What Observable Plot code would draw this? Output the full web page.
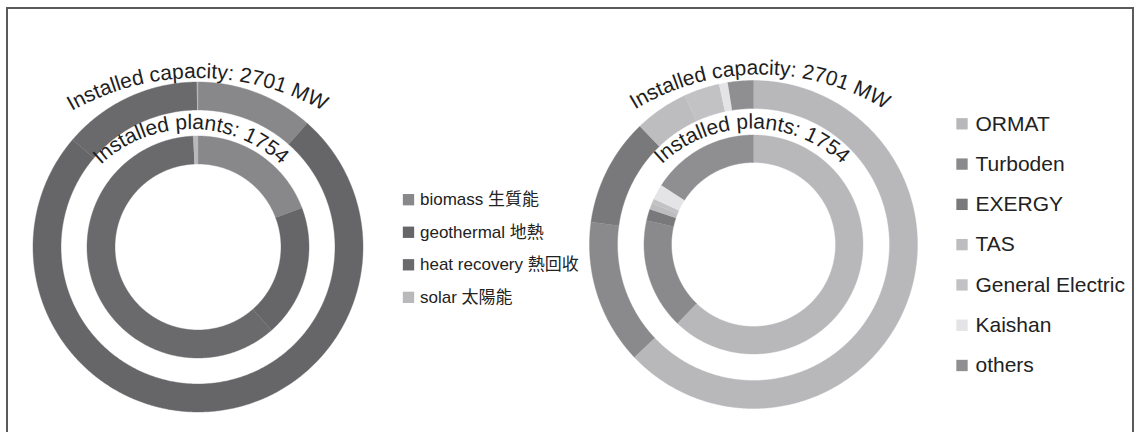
<!DOCTYPE html>
<html>
<head>
<meta charset="utf-8">
<script src="https://cdn.jsdelivr.net/npm/d3@7"></script>
<script src="https://cdn.jsdelivr.net/npm/@observablehq/plot@0.6"></script>
<style>
  html, body { margin: 0; padding: 0; background: #fff; }
  #wrap { position: relative; width: 1139px; height: 432px; overflow: hidden; }
  #frame { position: absolute; left: 6px; top: 7px; width: 1128px; height: 440px; border: 2px solid #5a5a5c; box-sizing: border-box; pointer-events: none; }
  svg { font-family: "Liberation Sans", Arial, "Noto Sans CJK TC", sans-serif; }
</style>
</head>
<body>
<div id="wrap"><div id="frame"></div></div>
<script>
// ---------- data ----------
const sourceCategories = ["biomass 生質能", "geothermal 地熱", "heat recovery 熱回收", "solar 太陽能"];
const sourceCapacityMW = [311, 2019, 368, 3];
const sourcePlants = [338, 337, 1067, 12];
const sourceColors = ["#88888b", "#666669", "#6a6a6d", "#b9b9bc"];

const makerCategories = ["ORMAT", "Turboden", "EXERGY", "TAS", "General Electric", "Kaishan", "others"];
const makerCapacityMW = [1700, 385, 287, 143, 95, 23, 68];
const makerPlants = [1091, 286, 30, 16, 12, 40, 279];
const makerColors = ["#b8b8bb", "#8a8a8d", "#79797c", "#bdbdc0", "#c2c2c5", "#e4e4e6", "#8f8f92"];

const capacityLabel = "Installed capacity: 2701 MW";
const plantsLabel = "Installed plants: 1754";

// ---------- layout ----------
const W = 1139, H = 432;
const rings = [
  {id: "Lo", values: sourceCapacityMW, colors: sourceColors, cx: 197.5, cy: 246.5, r0: 137, r1: 165},
  {id: "Li", values: sourcePlants, colors: sourceColors, cx: 197.5, cy: 246.5, r0: 83, r1: 111},
  {id: "Ro", values: makerCapacityMW, colors: makerColors, cx: 753, cy: 244, r0: 136, r1: 164},
  {id: "Ri", values: makerPlants, colors: makerColors, cx: 753, cy: 244, r0: 82, r1: 109.5}
];

function pt(cx, cy, r, a) { return [cx + r * Math.sin(a), cy - r * Math.cos(a)]; }

const slicePts = [];
for (const ring of rings) {
  const total = d3.sum(ring.values);
  let acc = 0;
  ring.values.forEach((v, i) => {
    const a0 = acc / total * 2 * Math.PI;
    acc += v;
    const a1 = acc / total * 2 * Math.PI;
    const n = Math.max(2, Math.ceil((a1 - a0) / (Math.PI / 360)));
    const id = ring.id + i;
    const fill = ring.colors[i];
    for (let k = 0; k <= n; k++) {
      const a = a0 + (a1 - a0) * k / n;
      const [x, y] = pt(ring.cx, ring.cy, ring.r1, a);
      slicePts.push({x, y, id, fill});
    }
    for (let k = n; k >= 0; k--) {
      const a = a0 + (a1 - a0) * k / n;
      const [x, y] = pt(ring.cx, ring.cy, ring.r0, a);
      slicePts.push({x, y, id, fill});
    }
  });
}

const legendL = sourceCategories.map((c, i) => ({label: c, color: sourceColors[i], x: 408, y: 199.2 + i * 32.55}));
const legendR = makerCategories.map((c, i) => ({label: c, color: makerColors[i], x: 961.5, y: 123.3 + i * 40.28}));

const chart = Plot.plot({
  width: W, height: H, margin: 0,
  x: {domain: [0, W], range: [0, W], axis: null},
  y: {domain: [0, H], range: [0, H], axis: null},
  color: {type: "identity"},
  marks: [
    Plot.line(slicePts, {x: "x", y: "y", z: "id", fill: "fill", stroke: "fill", strokeWidth: 0.4, curve: "linear"}),
    Plot.dot(legendL, {x: "x", y: "y", symbol: "square", r: 6.4, fill: "color", stroke: null}),
    Plot.text(legendL, {x: d => d.x + 11.5, y: "y", text: "label", textAnchor: "start", fontSize: 17, fill: "#222"}),
    Plot.dot(legendR, {x: "x", y: "y", symbol: "square", r: 6.4, fill: "color", stroke: null}),
    Plot.text(legendR, {x: d => d.x + 13.5, y: "y", text: "label", textAnchor: "start", fontSize: 21, fill: "#222"})
  ]
});

// curved ring labels
const arcLabels = [
  {id: "arcLo", text: capacityLabel, cx: 197.5, top: 78, R: 255},
  {id: "arcLi", text: plantsLabel, cx: 191, top: 129, R: 132},
  {id: "arcRo", text: capacityLabel, cx: 760, top: 74.5, R: 240},
  {id: "arcRi", text: plantsLabel, cx: 752, top: 128.5, R: 132}
];
const svg = d3.select(chart);
const defs = svg.append("defs");
for (const L of arcLabels) {
  const cyA = L.top + L.R;
  const a = 85 * Math.PI / 180;
  const [x0, y0] = pt(L.cx, cyA, L.R, -a);
  const [x1, y1] = pt(L.cx, cyA, L.R, a);
  defs.append("path").attr("id", L.id).attr("d", `M${x0},${y0}A${L.R},${L.R} 0 0 1 ${x1},${y1}`);
  svg.append("text")
    .attr("font-size", 21)
    .attr("fill", "#1e1e1e")
    .append("textPath")
    .attr("href", "#" + L.id)
    .attr("startOffset", "50%")
    .attr("text-anchor", "middle")
    .text(L.text);
}

document.getElementById("wrap").prepend(chart);
</script>
</body>
</html>
